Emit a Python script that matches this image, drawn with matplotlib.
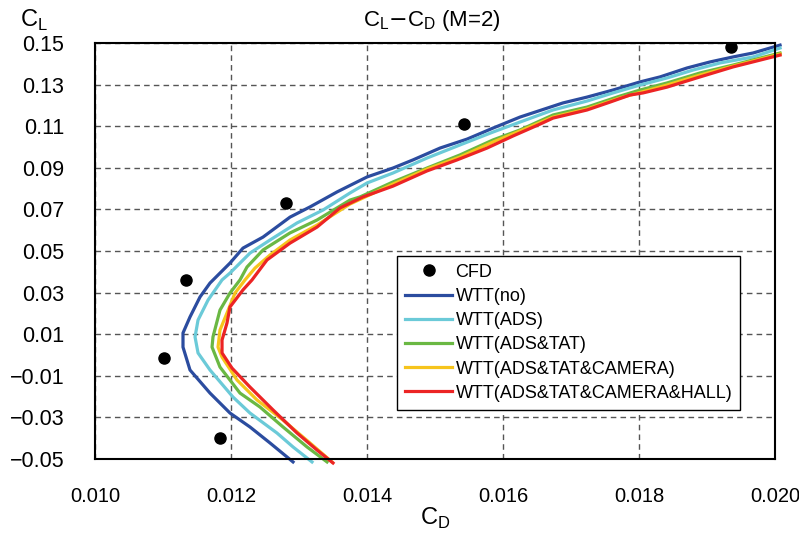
import matplotlib
matplotlib.use('Agg')
from matplotlib import pyplot as plt

plt.rcParams['font.family'] = ['Liberation Sans', 'DejaVu Sans']

# CFD points
cfd_cd = [0.01101, 0.01134, 0.01184, 0.01281, 0.01543, 0.01935]
cfd_cl = [-0.0014, 0.0361, -0.0399, 0.0731, 0.1111, 0.1480]

# WTT(no)
no_cd = [0.012912, 0.012574, 0.012279, 0.011985, 0.011691, 0.011397, 0.011294, 0.011294,
         0.011397, 0.011544, 0.011691, 0.011985, 0.012176, 0.012471, 0.012868, 0.013162,
         0.013559, 0.014000, 0.014382, 0.014676, 0.015074, 0.015471, 0.015853, 0.016250,
         0.016882, 0.017235, 0.017618, 0.018015, 0.018309, 0.018706, 0.019044, 0.019382,
         0.019676, 0.020074]
no_cl = [-0.0514, -0.0423, -0.0346, -0.0279, -0.0183, -0.0072, 0.0038, 0.0106,
         0.0183, 0.0279, 0.0346, 0.0442, 0.0514, 0.0567, 0.0663, 0.0712,
         0.0784, 0.0856, 0.0899, 0.0938, 0.0995, 0.1038, 0.1091, 0.1144,
         0.1212, 0.1240, 0.1274, 0.1313, 0.1337, 0.1380, 0.1409, 0.1433,
         0.1452, 0.1490]

# WTT(ADS)
ads_cd = [0.013191, 0.012912, 0.012676, 0.012279, 0.012029, 0.011691, 0.011515, 0.011471,
          0.011515, 0.011662, 0.011868, 0.011985, 0.012279, 0.012574, 0.012971, 0.013353,
          0.013750, 0.014000, 0.014382, 0.014882, 0.015368, 0.015853, 0.016250, 0.016735,
          0.017235, 0.017618, 0.018015, 0.018412, 0.018794, 0.019191, 0.019676, 0.020074]
ads_cl = [-0.0514, -0.0442, -0.0375, -0.0279, -0.0202, -0.0072, 0.0010, 0.0087,
          0.0168, 0.0264, 0.0361, 0.0394, 0.0490, 0.0553, 0.0635, 0.0697,
          0.0779, 0.0827, 0.0875, 0.0947, 0.1010, 0.1072, 0.1120, 0.1178,
          0.1221, 0.1260, 0.1298, 0.1332, 0.1370, 0.1404, 0.1433, 0.1476]

# WTT(ADS&TAT)
tat_cd = [0.013412, 0.013118, 0.012765, 0.012426, 0.012132, 0.011838, 0.011721, 0.011735,
          0.011838, 0.011985, 0.012132, 0.012235, 0.012471, 0.012868, 0.013265, 0.013750,
          0.013897, 0.014382, 0.014882, 0.015368, 0.015853, 0.016250, 0.016735, 0.017235,
          0.017721, 0.018015, 0.018412, 0.018897, 0.019382, 0.020074]
tat_cl = [-0.0514, -0.0442, -0.0346, -0.0250, -0.0183, -0.0058, 0.0038, 0.0087,
          0.0216, 0.0298, 0.0361, 0.0423, 0.0505, 0.0587, 0.0649, 0.0745,
          0.0760, 0.0832, 0.0899, 0.0962, 0.1034, 0.1082, 0.1154, 0.1192,
          0.1245, 0.1274, 0.1308, 0.1356, 0.1394, 0.1452]

# WTT(ADS&TAT&CAMERA)
cam_cd = [0.013485, 0.013162, 0.012765, 0.012382, 0.012088, 0.011868, 0.011809, 0.011838,
          0.011941, 0.012059, 0.012206, 0.012353, 0.012574, 0.012868, 0.013265, 0.013750,
          0.014382, 0.014882, 0.015368, 0.015853, 0.016250, 0.016735, 0.017235, 0.017721,
          0.018412, 0.018897, 0.019382, 0.020074]
cam_cl = [-0.0514, -0.0423, -0.0313, -0.0216, -0.0120, -0.0010, 0.0038, 0.0120,
          0.0202, 0.0298, 0.0361, 0.0418, 0.0481, 0.0553, 0.0625, 0.0726,
          0.0822, 0.0894, 0.0952, 0.1024, 0.1077, 0.1144, 0.1183, 0.1236,
          0.1298, 0.1346, 0.1389, 0.1447]

# WTT(ADS&TAT&CAMERA&HALL)
hall_cd = [0.013500, 0.013265, 0.012971, 0.012618, 0.012279, 0.012015, 0.011868, 0.011868,
           0.011941, 0.011985, 0.012176, 0.012309, 0.012529, 0.012868, 0.013265, 0.013603,
           0.013941, 0.014382, 0.014882, 0.015324, 0.015765, 0.016147, 0.016544, 0.016735,
           0.017235, 0.017574, 0.017868, 0.018059, 0.018412, 0.018897, 0.019382, 0.020074]
hall_cl = [-0.0519, -0.0457, -0.0375, -0.0264, -0.0154, -0.0063, 0.0010, 0.0072,
           0.0154, 0.0231, 0.0313, 0.0361, 0.0457, 0.0538, 0.0615, 0.0707,
           0.0760, 0.0812, 0.0885, 0.0938, 0.0995, 0.1053, 0.1110, 0.1139,
           0.1178, 0.1216, 0.1250, 0.1260, 0.1288, 0.1337, 0.1385, 0.1442]

xticks = [0.010, 0.012, 0.014, 0.016, 0.018, 0.020]
yticks = [-0.05, -0.03, -0.01, 0.01, 0.03, 0.05, 0.07, 0.09, 0.11, 0.13, 0.15]

fig = plt.figure(figsize=(7.99, 5.33), dpi=100)
ax = fig.add_axes([0.1189, 0.1388, 0.8511, 0.7805])

lw = 2.3
ax.plot(cfd_cd, cfd_cl, 'o', color='black', markersize=8, label='CFD', zorder=6)
ax.plot(no_cd, no_cl, color='#2B4C9F', lw=lw, label='WTT(no)', clip_on=False)
ax.plot(ads_cd, ads_cl, color='#6BCAD8', lw=lw, label='WTT(ADS)', clip_on=False)
ax.plot(tat_cd, tat_cl, color='#6AB843', lw=lw, label='WTT(ADS&TAT)', clip_on=False)
ax.plot(cam_cd, cam_cl, color='#F6C41C', lw=lw, label='WTT(ADS&TAT&CAMERA)', clip_on=False)
ax.plot(hall_cd, hall_cl, color='#EC2424', lw=lw, label='WTT(ADS&TAT&CAMERA&HALL)', clip_on=False)

ax.set_xlim(0.010, 0.020)
ax.set_ylim(-0.05, 0.15)
ax.set_xticks(xticks)
ax.set_xticklabels(['%.3f' % v for v in xticks])
ax.set_yticks(yticks)
ax.set_yticklabels(['%.2f' % v if v >= 0 else '\u22120.%02d' % round(-v * 100) for v in yticks])
ax.tick_params(length=0)
ax.tick_params(axis='y', pad=22, labelsize=15.5)
ax.tick_params(axis='x', pad=20, labelsize=14.5)
ax.grid(True, color='#555555', linestyle=(0, (4, 3)), linewidth=1)
for s in ax.spines.values():
    s.set_linewidth(1.5)

ax.set_xlabel(r'C$_\mathregular{D}$', fontsize=17, labelpad=0)
fig.text(0.042, 0.962, r'C$_\mathregular{L}$', fontsize=17, ha='center', va='center')
fig.text(0.541, 0.962, r'C$_\mathregular{L}$$-$C$_\mathregular{D}$ (M=2)', fontsize=16,
         ha='center', va='center')

leg = ax.legend(loc='lower left', bbox_to_anchor=(0.444, 0.118), borderaxespad=0,
                fontsize=13, frameon=True, fancybox=False, edgecolor='black', framealpha=1,
                handlelength=2.6, handletextpad=0.2, borderpad=0.45, labelspacing=0.4)
leg.get_frame().set_linewidth(1.0)

plt.savefig('out.png', dpi=100)
